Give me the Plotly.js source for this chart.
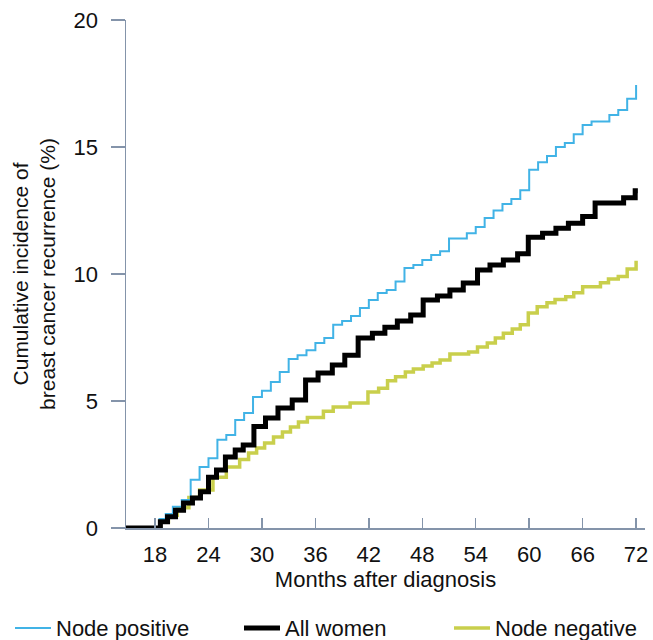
<!DOCTYPE html>
<html>
<head>
<meta charset="utf-8">
<script src="https://cdn.plot.ly/plotly-3.0.1.min.js"></script>
<style>html,body{margin:0;padding:0;background:#fff;}#chart{width:653px;height:640px;}</style>
</head>
<body>
<div id="chart"></div>
<script>
// Node positive
const monthsPositive = [14.74, 18.5, 19.2, 20, 21, 22, 23, 24, 25, 26, 27, 28, 29, 30, 31, 32, 33, 34, 35, 36, 37, 38, 39, 40, 41, 42, 43, 44, 45, 46, 47, 48, 49, 50, 51, 53, 54, 55, 56, 57, 58, 59, 60, 61, 62, 63, 64, 65, 66, 67, 69, 70, 71, 72];
const incidencePositive = [0, 0.35, 0.55, 0.84, 1.1, 1.9, 2.4, 2.75, 3.47, 3.66, 4.25, 4.53, 5.16, 5.4, 5.75, 6.14, 6.65, 6.8, 7.0, 7.28, 7.48, 8.0, 8.15, 8.35, 8.66, 8.98, 9.25, 9.37, 9.7, 10.24, 10.35, 10.55, 10.75, 10.9, 11.4, 11.6, 11.85, 12.2, 12.5, 12.76, 12.95, 13.3, 14.1, 14.4, 14.65, 15.0, 15.16, 15.5, 15.87, 16.0, 16.26, 16.46, 16.9, 17.44];

// All women
const monthsAll = [14.74, 18.6, 19.4, 20.3, 21.2, 22.2, 23.1, 24.0, 24.9, 25.9, 27.0, 27.9, 29.1, 30.4, 31.8, 33.4, 34.9, 36.3, 37.9, 39.3, 40.8, 42.4, 43.8, 45.2, 46.7, 48.1, 49.7, 51.1, 52.6, 54.2, 55.6, 57.1, 58.7, 59.9, 61.5, 63.0, 64.4, 66.0, 67.4, 70.6, 71.9, 72.2];
const incidenceAll = [0, 0.25, 0.44, 0.7, 0.98, 1.18, 1.43, 2.0, 2.28, 2.8, 3.07, 3.27, 4.0, 4.33, 4.72, 5.04, 5.83, 6.1, 6.42, 6.8, 7.48, 7.67, 7.9, 8.15, 8.39, 8.98, 9.13, 9.37, 9.65, 10.16, 10.35, 10.55, 10.8, 11.45, 11.6, 11.8, 12.0, 12.26, 12.8, 13.0, 13.28, 13.28];

// Node negative
const monthsNegative = [14.74, 18.6, 19.5, 20.5, 21.8, 23.0, 24.5, 26.0, 27.5, 28.5, 29.4, 30.3, 31.3, 32.3, 33.2, 34.1, 35.1, 36.9, 38.0, 39.9, 41.9, 43.1, 44.1, 45.0, 46.1, 47.0, 48.1, 49.1, 50.0, 51.1, 53.2, 54.2, 55.3, 56.2, 57.1, 58.1, 59.0, 59.9, 60.9, 62.0, 62.9, 64.1, 65.0, 66.0, 68.0, 68.9, 70.0, 71.0, 72.0];
const incidenceNegative = [0, 0.25, 0.5, 0.8, 1.2, 1.5, 2.0, 2.4, 2.7, 2.95, 3.15, 3.35, 3.58, 3.78, 3.98, 4.17, 4.35, 4.6, 4.76, 4.92, 5.35, 5.5, 5.8, 5.95, 6.14, 6.26, 6.38, 6.5, 6.61, 6.85, 6.93, 7.13, 7.28, 7.48, 7.67, 7.83, 8.0, 8.46, 8.71, 8.87, 9.0, 9.1, 9.26, 9.5, 9.66, 9.8, 9.9, 10.2, 10.52];

const xTicks = [18, 24, 30, 36, 42, 48, 54, 60, 66, 72];
const yTicks = [0, 5, 10, 15, 20];

const FONT = 'Liberation Sans, Arial, Helvetica, sans-serif';
const AXIS = '#8494aa';
const TXT = '#111111';

const traces = [
  {x: monthsNegative, y: incidenceNegative, name: 'Node negative', type: 'scatter', mode: 'lines',
   line: {shape: 'hv', color: '#c9cf4c', width: 3.5}, legend: 'legend3'},
  {x: monthsPositive, y: incidencePositive, name: 'Node positive', type: 'scatter', mode: 'lines',
   line: {shape: 'hv', color: '#41b3e6', width: 2}, legend: 'legend'},
  {x: monthsAll, y: incidenceAll, name: 'All women', type: 'scatter', mode: 'lines',
   line: {shape: 'hv', color: '#000000', width: 5}, legend: 'legend2'}
];

const W = 519;
function lx(px){ return (px - 126) / W; }
const legendBase = {bgcolor: 'rgba(0,0,0,0)', borderwidth: 0, orientation: 'h', itemwidth: 36,
  xanchor: 'left', yanchor: 'middle', y: -0.197, font: {family: FONT, size: 22, color: TXT}};

const layout = {
  width: 653, height: 640,
  margin: {l: 126, r: 8, t: 20, b: 112, autoexpand: false},
  paper_bgcolor: '#ffffff', plot_bgcolor: '#ffffff',
  font: {family: FONT, size: 22, color: TXT},
  showlegend: true,
  legend: Object.assign({}, legendBase, {x: lx(10)}),
  legend2: Object.assign({}, legendBase, {x: lx(239)}),
  legend3: Object.assign({}, legendBase, {x: lx(449)}),
  xaxis: {
    range: [14.74, 73], tickvals: xTicks, ticktext: xTicks.map(String),
    ticks: 'inside', ticklen: 10, tickwidth: 1.5, tickcolor: AXIS,
    showline: true, linecolor: AXIS, linewidth: 1.5,
    showgrid: false, zeroline: false, ticklabelstandoff: 6,
    tickfont: {family: FONT, size: 22, color: TXT},
    title: {text: 'Months after diagnosis', font: {family: FONT, size: 22, color: TXT}, standoff: 1}
  },
  yaxis: {
    range: [0, 20], tickvals: yTicks, ticktext: yTicks.map(String),
    ticks: 'outside', ticklen: 14, tickwidth: 1.5, tickcolor: AXIS,
    showline: true, linecolor: AXIS, linewidth: 1.5,
    showgrid: false, zeroline: false, ticklabelstandoff: 8,
    tickfont: {family: FONT, size: 22, color: TXT},
    title: {text: 'Cumulative incidence of<br>breast cancer recurrence (%)', font: {family: FONT, size: 21, color: TXT}, standoff: 12}
  }
};

Plotly.newPlot('chart', traces, layout, {displayModeBar: false, staticPlot: true});
</script>
</body>
</html>
